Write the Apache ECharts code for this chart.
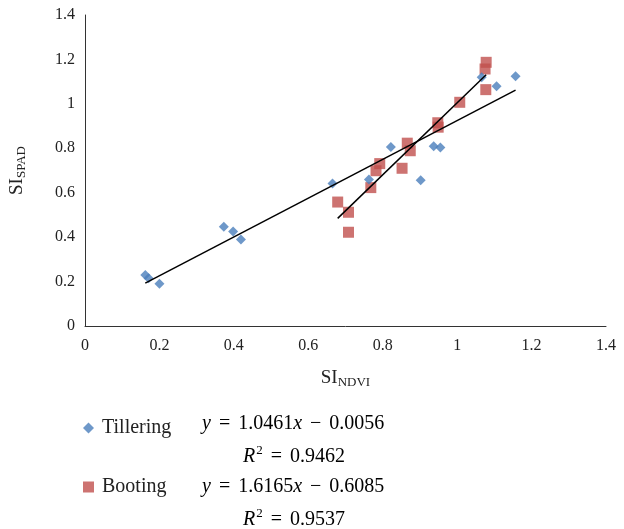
<!DOCTYPE html>
<html>
<head>
<meta charset="utf-8">
<script src="https://cdn.jsdelivr.net/npm/echarts@6/dist/echarts.min.js"></script>
<style>html,body{margin:0;padding:0;background:#fff}#c{width:624px;height:529px}</style>
</head>
<body>
<div id="c"></div>
<script>
// Data
const tilleringX = [0.162, 0.171, 0.200, 0.373, 0.398, 0.419, 0.665, 0.763, 0.822, 0.902, 0.937, 0.955, 1.066, 1.106, 1.157];
const tilleringY = [0.230, 0.215, 0.190, 0.447, 0.425, 0.389, 0.641, 0.659, 0.806, 0.656, 0.809, 0.803, 1.120, 1.079, 1.124];
const bootingX = [0.679, 0.708, 0.708, 0.768, 0.782, 0.792, 0.852, 0.866, 0.874, 0.948, 0.949, 1.007, 1.077, 1.075, 1.078];
const bootingY = [0.558, 0.512, 0.422, 0.623, 0.699, 0.731, 0.710, 0.823, 0.789, 0.915, 0.895, 1.007, 1.064, 1.157, 1.187];
const xTicks = [0, 0.2, 0.4, 0.6, 0.8, 1, 1.2, 1.4];
const yTicks = [0, 0.2, 0.4, 0.6, 0.8, 1, 1.2, 1.4];
const seriesNames = ['Tillering', 'Booting'];
const slopes = ['1.0461', '1.6165'];
const intercepts = ['0.0056', '0.6085'];
const r2Values = ['0.9462', '0.9537'];

function pairs(xs, ys) { return xs.map((x, i) => [x, ys[i]]); }
function trend(xs, ys) {
  const n = xs.length;
  const mx = xs.reduce((a, b) => a + b, 0) / n;
  const my = ys.reduce((a, b) => a + b, 0) / n;
  let sxy = 0, sxx = 0;
  for (let i = 0; i < n; i++) { sxy += (xs[i] - mx) * (ys[i] - my); sxx += (xs[i] - mx) ** 2; }
  const b = sxy / sxx, a = my - b * mx;
  const x0 = Math.min(...xs), x1 = Math.max(...xs);
  return [[x0, a + b * x0], [x1, a + b * x1]];
}

const serif = '"Liberation Serif", "DejaVu Serif", serif';
const blue = '#4A7EBB';
const red = '#C0504D';

const chart = echarts.init(document.getElementById('c'));
const eqRich = {
  i: { fontFamily: serif, fontSize: 20, fontStyle: 'italic', color: '#222' },
  t: { fontFamily: serif, fontSize: 20, color: '#222' },
  o: { fontFamily: serif, fontSize: 20, color: '#222', padding: [0, 8, 0, 8] },
  sup: { fontFamily: serif, fontSize: 13, color: '#222', verticalAlign: 'top', padding: [0, 0, 12, 1] }
};
function eqText(k, top) {
  return [
    { type: 'text', left: 202, top: top, style: {
      text: '{i|y}{o|=}{t|' + slopes[k] + '}{i|x}{o|−}{t|' + intercepts[k] + '}', rich: eqRich } },
    { type: 'text', left: 243, top: top + 30, style: {
      text: '{i|R}{sup|2}{o|=}{t|' + r2Values[k] + '}', rich: eqRich } }
  ];
}

chart.setOption({
  animation: false,
  backgroundColor: '#fff',
  grid: { left: 82, right: 18, top: 15, bottom: 203 },
  xAxis: {
    type: 'value', min: 0, max: 1.4, interval: 0.2,
    name: '{a|SI}{b|NDVI}', nameLocation: 'middle', nameGap: 42,
    nameTextStyle: { rich: {
      a: { fontFamily: serif, fontSize: 19, color: '#222' },
      b: { fontFamily: serif, fontSize: 13, color: '#222', verticalAlign: 'bottom', padding: [8, 0, 0, 0] }
    } },
    axisLine: { lineStyle: { color: '#333', width: 1 } },
    axisTick: { show: false },
    splitLine: { show: false },
    axisLabel: { fontFamily: serif, fontSize: 16, color: '#222', margin: 12,
      formatter: v => xTicks.includes(+v.toFixed(1)) ? String(+v.toFixed(1)) : '' }
  },
  yAxis: {
    type: 'value', min: 0, max: 1.4, interval: 0.2,
    name: '{a|SI}{b|SPAD}', nameLocation: 'middle', nameGap: 57, nameRotate: 90,
    nameTextStyle: { rich: {
      a: { fontFamily: serif, fontSize: 19, color: '#222' },
      b: { fontFamily: serif, fontSize: 13, color: '#222', verticalAlign: 'bottom', padding: [8, 0, 0, 0] }
    } },
    axisLine: { show: true, lineStyle: { color: '#333', width: 1 } },
    axisTick: { show: false },
    splitLine: { show: false },
    axisLabel: { fontFamily: serif, fontSize: 16, color: '#222', margin: 10,
      formatter: v => yTicks.includes(+v.toFixed(1)) ? String(+v.toFixed(1)) : '' }
  },
  legend: {
    orient: 'vertical', left: 78, top: 413, itemGap: 39, itemWidth: 11, itemHeight: 11,
    data: seriesNames,
    textStyle: { fontFamily: serif, fontSize: 20, color: '#222', padding: [0, 0, 0, 3] }
  },
  graphic: [].concat(eqText(0, 414), eqText(1, 477)),
  series: [
    { name: seriesNames[0], type: 'scatter', symbol: 'diamond', symbolSize: 10,
      itemStyle: { color: blue }, data: pairs(tilleringX, tilleringY), z: 3 },
    { name: seriesNames[1], type: 'scatter', symbol: 'rect', symbolSize: 11,
      itemStyle: { color: red }, data: pairs(bootingX, bootingY), z: 2 },
    { type: 'line', data: trend(tilleringX, tilleringY), symbol: 'none', silent: true,
      lineStyle: { color: '#000', width: 1.5 }, z: 4, legendHoverLink: false },
    { type: 'line', data: trend(bootingX, bootingY), symbol: 'none', silent: true,
      lineStyle: { color: '#000', width: 1.5 }, z: 4, legendHoverLink: false }
  ]
});
</script>
</body>
</html>
